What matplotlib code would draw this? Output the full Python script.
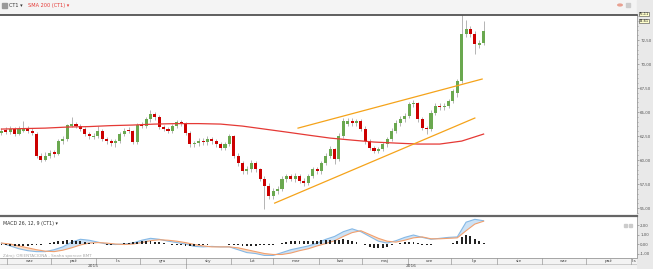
import numpy as np
import pandas as pd
import matplotlib
matplotlib.use("Agg")
import matplotlib.pyplot as plt
import matplotlib.dates as mdates
import matplotlib.transforms as mtransforms
from matplotlib.patches import Rectangle
from matplotlib.ticker import FuncFormatter, MultipleLocator

# ---- data ----
bar_dates = pd.date_range("2015-08-28", periods=111, freq="3D")

opens = [62.80, 63.10, 62.90, 63.20, 62.75, 63.05, 63.25, 63.00, 62.75, 60.45,
         60.05, 60.40, 60.80, 60.65, 61.95, 62.20, 63.60, 63.80, 63.55, 63.20,
         62.70, 62.45, 62.55, 63.00, 62.20, 62.00, 61.75, 62.00, 62.70, 63.10,
         63.00, 61.90, 63.70, 63.50, 64.25, 64.80, 64.50, 63.45, 63.20, 63.00,
         63.50, 63.95, 63.85, 62.80, 61.65, 61.75, 62.00, 61.85, 62.20, 62.00,
         61.70, 61.25, 61.65, 62.50, 60.40, 59.70, 58.85, 59.05, 59.70, 59.05,
         58.00, 57.30, 56.25, 56.75, 57.00, 58.00, 58.35, 58.00, 58.35, 57.80,
         57.60, 58.35, 59.05, 58.85, 59.70, 60.40, 61.15, 60.10, 62.50, 63.80,
         64.10, 63.85, 64.05, 63.25, 62.00, 61.25, 60.95, 61.15, 61.65, 62.20,
         63.00, 63.85, 64.25, 64.60, 65.80, 65.95, 64.25, 63.35, 63.20, 64.90,
         65.65, 65.50, 65.60, 66.15, 67.00, 68.20, 73.10, 73.65, 73.15, 72.00,
         72.20]
closes = [63.02, 62.92, 63.23, 62.71, 63.23, 63.23, 63.02, 62.81, 60.42, 60.00,
          60.42, 60.73, 60.63, 61.98, 62.19, 63.65, 63.75, 63.54, 63.23, 62.71,
          62.50, 62.50, 63.02, 62.19, 61.98, 61.77, 61.98, 62.71, 63.02, 63.02,
          61.88, 63.65, 63.54, 64.27, 64.79, 64.48, 63.44, 63.23, 63.02, 63.54,
          63.96, 63.85, 62.81, 61.67, 61.77, 61.98, 61.88, 62.19, 61.98, 61.67,
          61.25, 61.67, 62.50, 60.42, 59.69, 58.85, 59.06, 59.69, 59.06, 58.02,
          57.29, 56.25, 56.77, 56.98, 58.02, 58.33, 58.02, 58.33, 57.81, 57.60,
          58.33, 59.06, 58.85, 59.69, 60.42, 61.15, 60.10, 62.50, 64.06, 64.06,
          63.85, 64.06, 63.23, 61.98, 61.25, 60.94, 61.15, 61.67, 62.19, 63.02,
          63.85, 64.27, 64.58, 65.83, 65.94, 64.27, 63.33, 63.23, 64.90, 65.63,
          65.52, 65.63, 66.15, 67.19, 68.23, 73.13, 73.65, 73.13, 72.08, 72.19,
          73.44]
highs = [63.3, 63.4, 63.5, 63.4, 63.6, 64.1, 63.5, 63.3, 62.9, 60.7,
         60.8, 61.0, 61.1, 62.2, 62.5, 63.8, 64.5, 64.0, 63.8, 63.4,
         62.9, 62.8, 63.6, 63.2, 62.4, 62.2, 62.2, 62.9, 63.3, 63.4,
         63.1, 63.9, 64.0, 64.5, 65.2, 65.0, 64.7, 63.7, 63.4, 63.8,
         64.2, 64.2, 64.0, 63.0, 62.0, 62.3, 62.3, 62.5, 62.4, 62.2,
         61.9, 61.9, 62.7, 62.6, 60.7, 59.9, 59.4, 60.0, 59.9, 59.2,
         58.3, 57.6, 57.1, 57.3, 58.3, 58.6, 58.6, 58.7, 58.6, 58.1,
         58.6, 59.3, 59.3, 59.9, 60.7, 61.5, 61.3, 62.8, 64.4, 64.4,
         64.4, 64.3, 64.3, 63.5, 62.2, 61.5, 61.4, 61.9, 62.4, 63.3,
         64.2, 64.6, 64.9, 66.1, 66.3, 66.1, 64.5, 63.6, 65.2, 65.9,
         65.9, 65.9, 66.4, 67.4, 68.4, 75.1, 74.6, 74.0, 73.4, 72.5,
         74.5]
lows = [62.6, 62.7, 62.7, 62.5, 62.6, 62.9, 62.8, 62.6, 60.2, 59.8,
        59.9, 60.2, 60.3, 60.5, 61.7, 62.0, 63.4, 63.3, 63.0, 62.5,
        62.2, 62.2, 62.3, 62.0, 61.7, 61.5, 61.4, 61.8, 62.5, 62.8,
        61.7, 61.7, 63.3, 63.3, 64.0, 64.2, 63.2, 63.0, 62.8, 62.8,
        63.3, 63.6, 62.6, 61.4, 61.4, 61.5, 61.6, 61.6, 61.7, 61.4,
        61.0, 61.0, 61.5, 60.2, 59.4, 58.6, 58.6, 58.8, 58.8, 57.8,
        54.9, 56.0, 56.0, 56.5, 56.8, 57.7, 57.8, 57.7, 57.6, 57.3,
        57.4, 58.1, 58.6, 58.6, 59.5, 60.2, 59.6, 59.9, 62.3, 63.5,
        63.6, 63.6, 63.0, 61.7, 61.0, 60.7, 60.7, 60.9, 61.4, 62.0,
        62.8, 63.6, 64.0, 64.4, 65.5, 64.0, 63.1, 62.7, 63.0, 64.7,
        65.2, 65.2, 65.4, 65.9, 66.6, 68.0, 72.8, 72.8, 71.1, 71.7,
        72.0]

sma_dates = bar_dates[::5]
sma200 = [63.23, 63.28, 63.33, 63.44, 63.49, 63.59, 63.65, 63.75, 63.80, 63.80,
          63.75, 63.54, 63.23, 62.92, 62.60, 62.29, 62.08, 61.88, 61.77, 61.67,
          61.67, 61.98, 62.71]

channel_upper_dates = ["2016-03-18", "2016-07-22"]
channel_upper = [63.33, 68.44]
channel_lower_dates = ["2016-03-02", "2016-07-17"]
channel_lower = [55.52, 64.38]

macd_dates = bar_dates[::2]
macd = [0.1, -0.2, -0.5, -0.7, -0.8, -0.8, -0.6, -0.3, 0.2, 0.5,
        0.4, 0.2, 0.0, -0.05, 0.0, 0.1, 0.4, 0.6, 0.5, 0.3,
        0.15, 0.0, -0.25, -0.3, -0.25, -0.3, -0.3, -0.6, -0.9, -1.0,
        -1.2, -1.2, -0.9, -0.6, -0.4, -0.2, 0.1, 0.5, 0.8, 1.3,
        1.6, 1.3, 0.8, 0.3, 0.1, 0.35, 0.7, 0.95, 0.7, 0.5,
        0.6, 0.7, 0.75, 2.3, 2.6, 2.45]
signal = [0.1, 0.0, -0.2, -0.4, -0.6, -0.75, -0.8, -0.65, -0.4, -0.1,
          0.1, 0.15, 0.1, 0.0, -0.05, 0.0, 0.15, 0.35, 0.45, 0.4,
          0.3, 0.15, -0.05, -0.2, -0.3, -0.3, -0.3, -0.4, -0.6, -0.8,
          -1.0, -1.1, -1.1, -0.95, -0.7, -0.5, -0.2, 0.05, 0.35, 0.8,
          1.2, 1.4, 1.0, 0.6, 0.3, 0.2, 0.4, 0.65, 0.75, 0.55,
          0.55, 0.6, 0.65, 1.4, 2.1, 2.4]
hist = [-0.1, -0.15, -0.2, -0.2, -0.25, -0.2, -0.2, -0.15, -0.1, -0.05,
        0.05, 0.15, 0.25, 0.3, 0.35, 0.4, 0.4, 0.35, 0.3, 0.25,
        0.15, 0.1, 0.05, 0.0, -0.05, -0.05, 0.0, 0.05, 0.1, 0.15,
        0.2, 0.25, 0.3, 0.3, 0.3, 0.25, 0.2, 0.1, 0.0, -0.05,
        -0.1, -0.15, -0.2, -0.2, -0.2, -0.15, -0.1, -0.05, 0.0, 0.05,
        0.0, 0.0, -0.05, -0.1, -0.15, -0.2, -0.2, -0.2, -0.2, -0.15,
        -0.15, -0.1, -0.05, 0.05, 0.15, 0.2, 0.3, 0.35, 0.35, 0.3,
        0.3, 0.3, 0.35, 0.4, 0.4, 0.4, 0.4, 0.45, 0.5, 0.45,
        0.35, 0.2, 0.0, -0.15, -0.3, -0.4, -0.45, -0.4, -0.3, -0.15,
        0.0, 0.15, 0.25, 0.25, 0.2, 0.1, -0.05, -0.1, -0.05, 0.0,
        0.05, 0.05, 0.05, 0.1, 0.3, 0.7, 0.95, 0.8, 0.55, 0.35,
        0.15]

price_ticks = [55.0, 57.5, 60.0, 62.5, 65.0, 67.5, 70.0, 72.5]
macd_ticks = [-1.0, 0.0, 1.0, 2.0]
month_starts = pd.date_range("2015-09-01", "2016-11-01", freq="MS")
month_labels = ["wrz", "paź", "lis", "gru", "sty", "lut", "mar", "kwi",
                "maj", "cze", "lip", "sie", "wrz", "paź", "lis"]
year_labels = ["2015", "2016"]
last_markers = [75.11, 74.61]

# ---- figure layout (pixels of a 653x269 picture) ----
W, H = 653, 269
fig = plt.figure(figsize=(W / 100, H / 100), dpi=100)
fig.patch.set_facecolor("white")


def box(x0, y0, x1, y1):
    return [x0 / W, 1 - y1 / H, (x1 - x0) / W, (y1 - y0) / H]


# grey header strip and grey axis strip on the right
fig.patches.append(Rectangle((0, 1 - 14 / H), 1, 14 / H, transform=fig.transFigure,
                             color="#f4f4f4", zorder=-1))
fig.patches.append(Rectangle((637 / W, 0), 16 / W, 1, transform=fig.transFigure,
                             color="#e9e9e9", zorder=-1))

ax = fig.add_axes(box(0, 15, 637, 213))
axm = fig.add_axes(box(0, 216, 637, 258), sharex=ax)
axd = fig.add_axes(box(0, 258, 637, 269), sharex=ax)

x = mdates.date2num(bar_dates)
xlim = (mdates.date2num(pd.Timestamp("2015-08-27")), mdates.date2num(pd.Timestamp("2016-11-05")))

comma = FuncFormatter(lambda v, p: f"{v:.2f}".replace(".", ","))

# ---- price panel ----
o = np.array(opens)
c = np.array(closes)
up = c >= o
ax.vlines(x, lows, highs, color="#a8a8a8", lw=0.6, zorder=2)
body_bot = np.minimum(o, c)
body_h = np.maximum(np.abs(c - o), 0.06)
ax.bar(x[up], body_h[up], bottom=body_bot[up], width=2.1, color="#6aa84f", zorder=3)
ax.bar(x[~up], body_h[~up], bottom=body_bot[~up], width=2.1, color="#cc0000", zorder=3)

ax.plot(mdates.date2num(sma_dates), sma200, color="#e53935", lw=0.9, zorder=4)
ax.plot(mdates.date2num(pd.to_datetime(channel_upper_dates)), channel_upper,
        color="#f5a31a", lw=0.9, zorder=4)
ax.plot(mdates.date2num(pd.to_datetime(channel_lower_dates)), channel_lower,
        color="#f5a31a", lw=0.9, zorder=4)

ax.set_xlim(*xlim)
ax.set_ylim(54.49, 75.11)
ax.yaxis.tick_right()
ax.set_yticks(price_ticks)
ax.yaxis.set_minor_locator(MultipleLocator(0.5))
ax.yaxis.set_major_formatter(comma)
for a in (ax, axm):
    for s in ("left", "bottom"):
        a.spines[s].set_visible(False)
    a.spines["right"].set_color("#999999")
    a.spines["right"].set_linewidth(0.6)
    a.tick_params(axis="y", which="both", colors="#777777", labelcolor="#555555",
                  labelsize=2.9, length=1.5, width=0.4, pad=0.8)
    a.tick_params(axis="y", which="minor", length=1.0)
    a.tick_params(axis="x", bottom=False, labelbottom=False)
ax.spines["top"].set_color("#444444")
ax.spines["top"].set_linewidth(1.2)

# last-price boxes on the price axis, stacked
tr = mtransforms.blended_transform_factory(ax.transAxes, ax.transAxes)
for k, val in enumerate(last_markers):
    ax.text(1.003, 1.004 - k * 0.034, f"{val:.2f}".replace(".", ","), transform=tr,
            fontsize=2.6, va="center", ha="left", color="#222222", clip_on=False,
            bbox=dict(boxstyle="square,pad=0.06", fc="#ffffcc", ec="#444444", lw=0.4))

# header texts
fig.patches.append(Rectangle((2 / W, 1 - 8 / H), 5 / W, 5 / H, transform=fig.transFigure,
                             color="#999999", zorder=5))
fig.text(9 / W, 1 - 5.5 / H, "CT1 \u25be", fontsize=3.6, color="#333333", va="center")
fig.text(28 / W, 1 - 5.5 / H, "SMA 200 (CT1) \u25be", fontsize=3.6, color="#e53935", va="center")
fig.patches.append(plt.Circle((620 / W, 1 - 5 / H), 2.2 / W, transform=fig.transFigure,
                              color="#e8a090", zorder=5))
fig.patches.append(Rectangle((626 / W, 1 - 7 / H), 4 / W, 4 / H, transform=fig.transFigure,
                             color="#cccccc", zorder=5))

# ---- MACD panel ----
mx = mdates.date2num(macd_dates)
mv = np.array(macd)
sv = np.array(signal)
axm.fill_between(mx, mv, sv, where=mv >= sv, interpolate=True, color="#cde2f5", lw=0)
axm.fill_between(mx, mv, sv, where=mv < sv, interpolate=True, color="#fbdcc6", lw=0)
axm.plot(mx, macd, color="#86b9e6", lw=0.8)
axm.plot(mx, signal, color="#f2a06e", lw=0.8)
axm.bar(x, hist, width=1.3, color="#222222", zorder=3)
axm.set_ylim(-1.47, 2.95)
axm.yaxis.tick_right()
axm.set_yticks(macd_ticks)
axm.yaxis.set_major_formatter(comma)
axm.spines["top"].set_color("#666666")
axm.spines["top"].set_linewidth(1.6)
axm.text(0.004, 0.82, "MACD 26, 12, 9 (CT1) \u25be", transform=axm.transAxes,
         fontsize=3.4, color="#333333", va="center")
axm.text(0.004, 0.05, "Zdroj: ORIENTACIONA - Snaha sporove BMT", transform=axm.transAxes,
         fontsize=3.0, color="#aaaaaa", va="center")
fig.patches.append(Rectangle((624 / W, 1 - 227 / H), 3 / W, 3 / H, transform=fig.transFigure,
                             color="#cccccc", zorder=5))
fig.patches.append(Rectangle((629 / W, 1 - 227 / H), 3 / W, 3 / H, transform=fig.transFigure,
                             color="#cccccc", zorder=5))

# ---- date axis (months on top row, years below) ----
axd.set_facecolor("#f3f3f3")
axd.set_ylim(0, 1)
axd.set_yticks([])
axd.tick_params(axis="x", bottom=False, labelbottom=False)
for s in axd.spines.values():
    s.set_visible(False)
axd.axhline(1, color="#999999", lw=0.6)
axd.axhline(0.5, color="#bbbbbb", lw=0.5)
ms = mdates.date2num(month_starts)
for m in ms:
    axd.plot([m, m], [0.5, 1], color="#999999", lw=0.5)
for i, lab in enumerate(month_labels):
    cx = (ms[i] + (ms[i + 1] if i + 1 < len(ms) else xlim[1])) / 2
    axd.text(cx, 0.75, lab, fontsize=3.2, color="#444444", ha="center", va="center")
y2016 = mdates.date2num(pd.Timestamp("2016-01-01"))
axd.plot([y2016, y2016], [0, 0.5], color="#999999", lw=0.5)
axd.text((xlim[0] + y2016) / 2, 0.25, year_labels[0], fontsize=3.2, color="#444444",
         ha="center", va="center")
axd.text((y2016 + xlim[1]) / 2, 0.25, year_labels[1], fontsize=3.2, color="#444444",
         ha="center", va="center")

fig.savefig("out.png", dpi=100)
